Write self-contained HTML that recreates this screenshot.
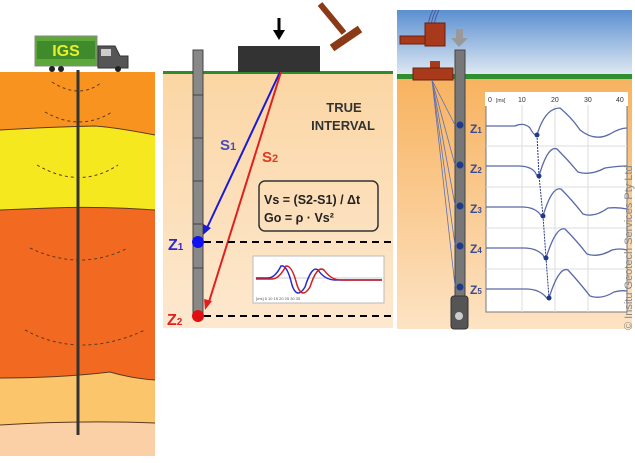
<!DOCTYPE html>
<html><head><meta charset="utf-8"><style>
body{margin:0;width:635px;height:458px;background:#fff;overflow:hidden;font-family:"Liberation Sans",sans-serif}
</style></head><body>
<svg width="635" height="458" xmlns="http://www.w3.org/2000/svg" font-family="Liberation Sans, sans-serif">
<defs>
<linearGradient id="mid" x1="0" y1="0" x2="0" y2="1"><stop offset="0" stop-color="#fbd6a4"/><stop offset="1" stop-color="#fde8cf"/></linearGradient>
<linearGradient id="sky" x1="0" y1="0" x2="0" y2="1"><stop offset="0" stop-color="#5b8fd0"/><stop offset="1" stop-color="#dfe9f3"/></linearGradient>
<linearGradient id="earth" x1="0" y1="0" x2="0" y2="1"><stop offset="0" stop-color="#f7b25e"/><stop offset="1" stop-color="#fde3c4"/></linearGradient>
</defs>
<!-- LEFT PANEL -->
<path d="M0 72 H155 V135 Q120 128 95 126 Q50 127 0 130 Z" fill="#f7931e"/>
<path d="M0 130 Q50 127 95 126 Q120 128 155 135 V210 Q100 206 50 208 L0 210 Z" fill="#f6e81e"/>
<path d="M0 210 L50 208 Q100 206 155 210 V380 Q130 378 110 372 Q60 378 0 378 Z" fill="#f26a21"/>
<path d="M0 378 Q60 378 110 372 Q130 378 155 380 V423 Q80 420 0 425 Z" fill="#fbc56b"/>
<path d="M0 425 Q80 420 155 423 V456 H0 Z" fill="#fbd0a6"/>
<g stroke="#5a3a20" stroke-width="1" fill="none">
<path d="M0 130 Q50 127 95 126 Q120 128 155 135"/><path d="M0 210 L50 208 Q100 206 155 210"/><path d="M0 378 Q60 378 110 372 Q130 378 155 380"/><path d="M0 425 Q80 420 155 423"/>
</g>
<g stroke="#5a3a20" stroke-width="1" fill="none" stroke-dasharray="3,3">
<path d="M52 82 Q80 100 102 82"/><path d="M45 112 Q80 132 112 112"/><path d="M37 165 Q80 190 118 165"/><path d="M30 248 Q80 272 128 248"/><path d="M25 330 Q80 360 145 330"/>
</g>
<line x1="78" y1="70" x2="78" y2="435" stroke="#333" stroke-width="3"/>
<rect x="35" y="36" width="62" height="30" fill="#5ea83a" stroke="#888"/>
<rect x="37" y="41" width="58" height="18" fill="#3f8a2a"/>
<text x="66" y="56" text-anchor="middle" font-size="16" font-weight="bold" fill="#e8f02a">IGS</text>
<path d="M98 46 H115 L120 56 H128 V68 H98 Z" fill="#555" stroke="#333"/>
<rect x="101" y="49" width="10" height="7" fill="#ccc"/>
<g fill="#222"><circle cx="52" cy="69" r="3"/><circle cx="61" cy="69" r="3"/><circle cx="118" cy="69" r="3"/></g>
<!-- MIDDLE PANEL -->
<rect x="163" y="72" width="230" height="256" fill="url(#mid)"/>
<rect x="163" y="71" width="230" height="3" fill="#2e8b2e"/>
<rect x="193" y="50" width="10" height="265" fill="#888" stroke="#444"/>
<g stroke="#444"><line x1="193" y1="95" x2="203" y2="95"/><line x1="193" y1="138" x2="203" y2="138"/><line x1="193" y1="181" x2="203" y2="181"/><line x1="193" y1="224" x2="203" y2="224"/><line x1="193" y1="268" x2="203" y2="268"/></g>
<rect x="238" y="46" width="82" height="26" fill="#333"/>
<line x1="279" y1="18" x2="279" y2="32" stroke="#000" stroke-width="3"/><path d="M273 30 L285 30 L279 40 Z" fill="#000"/>
<line x1="320" y1="4" x2="344" y2="33" stroke="#8b3a17" stroke-width="6"/>
<line x1="332" y1="48" x2="360" y2="29" stroke="#8b3a17" stroke-width="8"/>
<line x1="280" y1="72" x2="206" y2="230" stroke="#1a1ad8" stroke-width="2"/><path d="M203 235 L203 224 L211 228 Z" fill="#1a1ad8"/>
<line x1="281" y1="72" x2="208" y2="305" stroke="#e02020" stroke-width="2"/><path d="M205 310 L204 299 L212 301 Z" fill="#e02020"/>
<text x="220" y="150" font-size="15" font-weight="bold" fill="#4a4ac0">S<tspan font-size="11">1</tspan></text>
<text x="262" y="162" font-size="15" font-weight="bold" fill="#e03a20">S<tspan font-size="11">2</tspan></text>
<text x="344" y="112" text-anchor="middle" font-size="13" font-weight="bold" fill="#333">TRUE</text>
<text x="343" y="130" text-anchor="middle" font-size="13" font-weight="bold" fill="#333">INTERVAL</text>
<rect x="259" y="181" width="119" height="50" rx="6" fill="none" stroke="#333" stroke-width="1.5"/>
<text x="264" y="204" font-size="12.5" font-weight="bold" fill="#222">Vs = (S2-S1) / Δt</text>
<text x="264" y="222" font-size="12.5" font-weight="bold" fill="#222">Go = ρ · Vs²</text>
<g stroke="#000" stroke-width="2" stroke-dasharray="7,5"><line x1="204" y1="242" x2="393" y2="242"/><line x1="204" y1="316" x2="393" y2="316"/></g>
<circle cx="198" cy="242" r="6" fill="#1010f0"/><circle cx="198" cy="316" r="6" fill="#e01010"/>
<text x="168" y="250" font-size="16" font-weight="bold" fill="#2a2ad0">Z<tspan font-size="10">1</tspan></text>
<text x="167" y="325" font-size="16" font-weight="bold" fill="#e02020">Z<tspan font-size="10">2</tspan></text>
<rect x="253" y="256" width="131" height="47" fill="#fff" stroke="#bbb"/>
<line x1="255" y1="278" x2="382" y2="278" stroke="#ccc"/>
<path d="M256 278 H268 Q275 278 281 266 Q287 264 292 285 Q297 300 305 287 Q312 265 318 270 Q325 280 335 280 H382" fill="none" stroke="#2a2ad0" stroke-width="1.5"/>
<path d="M256 279 H272 Q279 279 286 266 Q292 265 297 285 Q302 300 310 287 Q317 265 324 270 Q331 280 341 280 H382" fill="none" stroke="#d02020" stroke-width="1.5"/>
<text x="256" y="300" font-size="4" fill="#555">[ms] 5 10 15 20 25 30 35</text>
<!-- RIGHT PANEL -->
<rect x="397" y="10" width="235" height="65" fill="url(#sky)"/>
<rect x="397" y="75" width="235" height="254" fill="url(#earth)"/>
<rect x="397" y="74" width="235" height="5" fill="#2f8f2f"/>
<g stroke="#4a5a9a" fill="none"><path d="M428 25 Q430 15 433 10"/><path d="M431 25 Q433 15 436 10"/><path d="M434 25 Q436 15 439 10"/></g>
<rect x="425" y="23" width="20" height="23" fill="#a8391a" stroke="#6a2010"/><rect x="400" y="36" width="25" height="8" fill="#a8391a" stroke="#6a2010"/>
<rect x="430" y="61" width="10" height="8" fill="#a8391a"/><rect x="413" y="68" width="40" height="12" fill="#a8391a" stroke="#6a2010"/>
<rect x="455" y="50" width="10" height="247" fill="#777" stroke="#444"/>
<rect x="451" y="296" width="17" height="33" rx="3" fill="#555" stroke="#333"/><circle cx="459" cy="316" r="4" fill="#ccc"/>
<rect x="456" y="29" width="7" height="10" fill="#999"/><path d="M451 38 H468 L459 47 Z" fill="#999"/>
<g stroke="#6070b0" stroke-width="0.8"><line x1="432" y1="80" x2="455" y2="125"/><line x1="432" y1="80" x2="455" y2="165"/><line x1="432" y1="80" x2="455" y2="205"/><line x1="432" y1="80" x2="455" y2="245"/><line x1="432" y1="80" x2="455" y2="286"/></g>
<g fill="#1f3a8a"><circle cx="460" cy="125" r="3.5"/><circle cx="460" cy="165" r="3.5"/><circle cx="460" cy="206" r="3.5"/><circle cx="460" cy="246" r="3.5"/><circle cx="460" cy="287" r="3.5"/></g>
<g font-size="12" font-weight="bold" fill="#3a4a90"><text x="470" y="133">Z<tspan font-size="8">1</tspan></text><text x="470" y="173">Z<tspan font-size="8">2</tspan></text><text x="470" y="213">Z<tspan font-size="8">3</tspan></text><text x="470" y="253">Z<tspan font-size="8">4</tspan></text><text x="470" y="294">Z<tspan font-size="8">5</tspan></text></g>
<rect x="486" y="105" width="141" height="207" fill="#fff" stroke="#777"/>
<rect x="485" y="92" width="143" height="14" fill="#fff"/>
<g font-size="7" fill="#333"><text x="488" y="102">0</text><text x="496" y="102" font-size="5">[ms]</text><text x="518" y="102">10</text><text x="551" y="102">20</text><text x="584" y="102">30</text><text x="616" y="102">40</text></g>
<g stroke="#ddd"><line x1="522" y1="105" x2="522" y2="312"/><line x1="555" y1="105" x2="555" y2="312"/><line x1="588" y1="105" x2="588" y2="312"/><line x1="486" y1="146" x2="627" y2="146"/><line x1="486" y1="187" x2="627" y2="187"/><line x1="486" y1="228" x2="627" y2="228"/><line x1="486" y1="269" x2="627" y2="269"/></g>
<g fill="none" stroke="#5a6aa8" stroke-width="1.3">
<path d="M486 126 H515 Q524 122 530 128 Q534 136 537 135 Q545 108 560 108 Q572 118 580 130 Q595 142 610 134 Q620 128 627 128"/>
<path d="M486 166 H518 Q530 166 535 172 Q538 178 539 176 Q548 145 557 149 Q568 160 578 172 Q590 176 605 168 Q618 166 627 166"/>
<path d="M486 207 H522 Q534 207 540 214 Q542 218 543 216 Q552 186 561 189 Q572 200 583 214 Q594 218 608 208 Q618 207 627 209"/>
<path d="M486 248 H524 Q536 248 543 255 Q545 260 546 258 Q556 226 565 229 Q576 240 587 254 Q598 258 612 250 Q620 248 627 250"/>
<path d="M486 289 H526 Q538 289 545 296 Q548 300 549 298 Q559 266 568 270 Q579 282 590 296 Q601 300 614 292 Q621 290 627 291"/>
</g>
<path d="M537 135 L539 176 L543 216 L546 258 L549 298" stroke="#2a3a8a" stroke-dasharray="2,1" fill="none"/>
<g fill="#1f3a8a"><circle cx="537" cy="135" r="2.5"/><circle cx="539" cy="176" r="2.5"/><circle cx="543" cy="216" r="2.5"/><circle cx="546" cy="258" r="2.5"/><circle cx="549" cy="298" r="2.5"/></g>
<text transform="translate(632,330) rotate(-90)" font-size="11" fill="#888">© Insitu Geotech Services Pty Ltd</text>
</svg>
</body></html>
